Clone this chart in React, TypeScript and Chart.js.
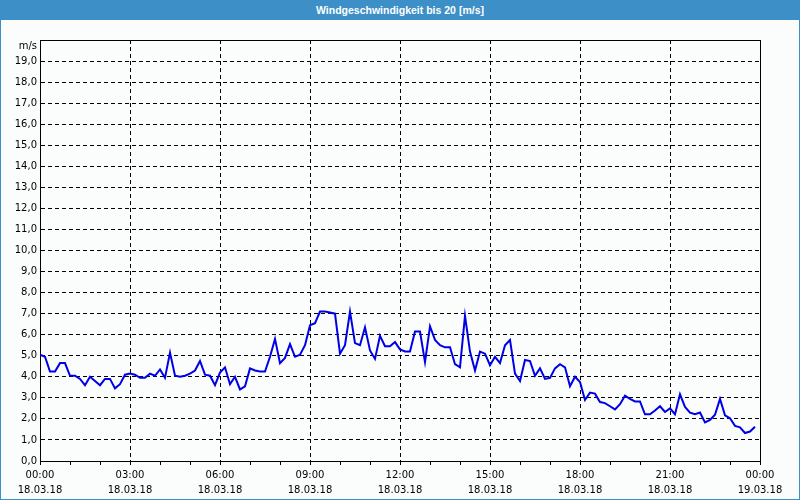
import React, { useEffect, useRef } from "react";
import { Chart, registerables } from "chart.js";

Chart.register(...registerables);

const TITLE = "Windgeschwindigkeit bis 20 [m/s]";
const UNIT = "m/s";
const timeLabels = ["00:00", "03:00", "06:00", "09:00", "12:00", "15:00", "18:00", "21:00", "00:00"];
const dateLabels = ["18.03.18", "18.03.18", "18.03.18", "18.03.18", "18.03.18", "18.03.18", "18.03.18", "18.03.18", "19.03.18"];
const STEP_MINUTES = 10;
const speeds = [
  5.05, 4.95, 4.25, 4.25, 4.65, 4.65, 4.05, 4.05, 3.9, 3.6,
  4.0, 3.8, 3.6, 3.9, 3.9, 3.45, 3.65, 4.1, 4.15, 4.1,
  3.95, 3.95, 4.15, 4.05, 4.35, 3.95, 5.15, 4.05, 4.0, 4.05,
  4.15, 4.3, 4.75, 4.1, 4.05, 3.6, 4.2, 4.45, 3.65, 4.0,
  3.4, 3.55, 4.4, 4.3, 4.25, 4.25, 4.95, 5.8, 4.65, 4.9,
  5.55, 4.95, 5.05, 5.5, 6.45, 6.55, 7.1, 7.1, 7.05, 7.0,
  5.1, 5.5, 7.1, 5.6, 5.5, 6.35, 5.25, 4.85, 5.95, 5.45,
  5.45, 5.65, 5.3, 5.2, 5.2, 6.15, 6.15, 4.7, 6.4, 5.75,
  5.5, 5.4, 5.4, 4.6, 4.45, 6.9, 5.2, 4.3, 5.2, 5.1,
  4.55, 4.95, 4.65, 5.5, 5.75, 4.15, 3.8, 4.8, 4.75, 4.05,
  4.4, 3.9, 3.95, 4.4, 4.6, 4.45, 3.55, 4.0, 3.75, 2.9,
  3.25, 3.2, 2.8, 2.75, 2.6, 2.45, 2.7, 3.1, 2.95, 2.83,
  2.83, 2.22, 2.22, 2.4, 2.6, 2.33, 2.5, 2.22, 3.17, 2.57,
  2.3, 2.22, 2.3, 1.83, 1.95, 2.2, 2.95, 2.17, 2.03, 1.67,
  1.6, 1.33, 1.4, 1.63,
];

const BLUE_FRAME = "#3d8fc7";

const framePlugin = {
  id: "plotFrame",
  beforeDatasetsDraw(chart: any) {
    const { ctx, chartArea } = chart;
    ctx.save();
    ctx.strokeStyle = "#000";
    ctx.lineWidth = 1;
    ctx.strokeRect(
      Math.round(chartArea.left) + 0.5,
      Math.round(chartArea.top) + 0.5,
      Math.round(chartArea.right - chartArea.left),
      Math.round(chartArea.bottom - chartArea.top)
    );
    ctx.restore();
  },
};

export default function App() {
  const ref = useRef<HTMLCanvasElement | null>(null);

  useEffect(() => {
    document.body.style.margin = "0";
    if (!ref.current) return;
    const points = speeds.map((v, i) => ({ x: i * STEP_MINUTES, y: v }));
    const font = { family: "'DejaVu Sans', sans-serif", size: 10 };
    const chart = new Chart(ref.current, {
      type: "line",
      data: {
        datasets: [
          {
            data: points,
            borderColor: "#0000e6",
            borderWidth: 2,
            pointRadius: 0,
            tension: 0,
            fill: false,
          },
        ],
      },
      options: {
        animation: false,
        responsive: false,
        parsing: false as any,
        layout: { padding: { left: 0, right: 40, top: 40, bottom: 0 } },
        plugins: { legend: { display: false }, tooltip: { enabled: false }, title: { display: false } },
        scales: {
          x: {
            type: "linear",
            min: 0,
            max: 1440,
            afterFit: (s: any) => {
              s.height = 39;
            },
            ticks: {
              stepSize: 60,
              autoSkip: false,
              maxRotation: 0,
              padding: 3,
              color: "#000",
              font: { ...font, lineHeight: 1.5 },
              callback: (v: any) => {
                const n = Number(v);
                if (n % 180 !== 0) return "";
                const idx = n / 180;
                return [timeLabels[idx], dateLabels[idx]];
              },
            },
            grid: {
              color: (c: any) => (c.tick && c.tick.value % 180 === 0 ? "#000" : "rgba(0,0,0,0)"),
              tickColor: "#000",
              tickLength: 4,
              lineWidth: 1,
            },
            border: { display: true, color: "#000", width: 1, dash: [4, 3] },
          },
          y: {
            type: "linear",
            min: 0,
            max: 20,
            afterFit: (s: any) => {
              s.width = 40;
            },
            ticks: {
              stepSize: 1,
              autoSkip: false,
              padding: 3,
              color: "#000",
              font: { ...font, lineHeight: 1.3 },
              callback: (v: any) => {
                const n = Number(v);
                if (n === 20) return ["", UNIT];
                return n.toFixed(1).replace(".", ",");
              },
            },
            grid: {
              color: "#000",
              drawTicks: false,
              lineWidth: 1,
            },
            border: { display: true, color: "#000", width: 1, dash: [4, 3] },
          },
        },
      },
      plugins: [framePlugin],
    });
    return () => chart.destroy();
  }, []);

  return (
    <div style={{ position: "relative", width: 800, height: 500, background: "#fbfdfc", overflow: "hidden" }}>
      <canvas ref={ref} width={800} height={500} style={{ position: "absolute", left: 0, top: 0, width: 800, height: 500 }} />
      <div
        style={{
          position: "absolute",
          left: 0,
          top: 0,
          width: 800,
          height: 20,
          background: BLUE_FRAME,
          color: "#fff",
          fontFamily: "'Liberation Sans', sans-serif",
          fontWeight: "bold",
          fontSize: 10.5,
          lineHeight: "20px",
          textAlign: "center",
        }}
      >
        {TITLE}
      </div>
      <div
        style={{
          position: "absolute",
          left: 0,
          top: 0,
          width: 800,
          height: 500,
          boxSizing: "border-box",
          border: `1px solid ${BLUE_FRAME}`,
          pointerEvents: "none",
        }}
      />
    </div>
  );
}
